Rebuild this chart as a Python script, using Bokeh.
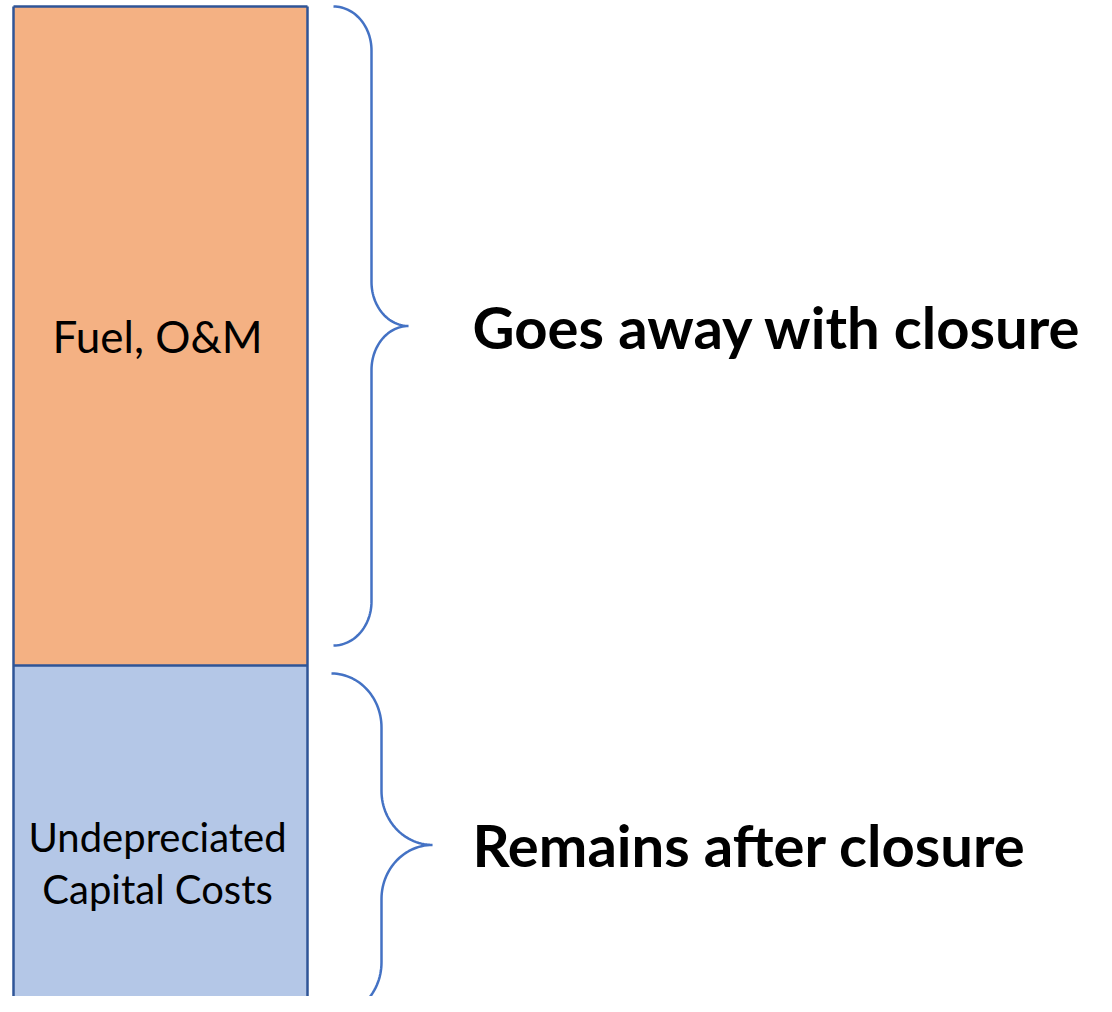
import numpy as np
from bokeh.plotting import figure
from bokeh.models import Range1d, ColumnDataSource
from bokeh.core.properties import value
from bokeh.embed import file_html
from bokeh.resources import INLINE

# ---- data ----
category = ["Plant"]
segment_names = ["Undepreciated Capital Costs", "Fuel, O&M"]
segment_values = [35, 65]
segment_lines = [["Undepreciated", "Capital Costs"], ["Fuel, O&M"]]
segment_colors = ["#B4C7E7", "#F4B183"]
brace_labels = ["Remains after closure", "Goes away with closure"]

# ---- layout (pixels) ----
W, H = 1096, 996
BAR_LEFT_PX, BAR_W_PX = 13, 294         # px of bar left edge, bar width
TOP_PX = 6                              # px of bar top
DIV_PX = 665                            # px of the boundary between segments
total = sum(segment_values)
sy = (DIV_PX - TOP_PX) / segment_values[1]
sx = BAR_W_PX
x0 = -0.5 - BAR_LEFT_PX / sx
y1 = total + TOP_PX / sy

def X(px):
    return x0 + px / sx

def Y(py):
    return y1 - py / sy

def PY(v):
    return (y1 - v) * sy

p = figure(width=W, height=H, output_backend="svg", toolbar_location=None,
           x_range=Range1d(x0, x0 + W / sx), y_range=Range1d(y1 - H / sy, y1),
           min_border=0, background_fill_color="white", border_fill_color="white")
p.axis.visible = False
p.grid.visible = False
p.outline_line_color = None

# stacked bar (fills)
bottoms = np.cumsum([0] + segment_values[:-1])
tops = np.cumsum(segment_values)
src = ColumnDataSource(dict(x=[0, 0], bottom=bottoms, top=tops, color=segment_colors))
p.vbar(x="x", bottom="bottom", top="top", width=1.0, fill_color="color",
       line_color=None, source=src)
# bar outline: sides, top edge and divider
ox = [[-0.5, -0.5], [0.5, 0.5]] + [[-0.5, 0.5] for _ in tops]
oy = [[0, total], [0, total]] + [[t, t] for t in tops]
p.multi_line(ox, oy, line_color="#2F5597", line_width=2.5)

# segment labels
tx, ty, tt, toff, tsize = [], [], [], [], []
line_gap = 52
sizes = ["40px", "44px"]
shifts = [20, 0]
for k, (b, t, lines) in enumerate(zip(bottoms, tops, segment_lines)):
    mid = (b + t) / 2
    n = len(lines)
    for i, ln in enumerate(lines):
        tx.append(-0.01)
        ty.append(mid)
        tt.append(ln)
        toff.append((i - (n - 1) / 2) * line_gap + shifts[k])
        tsize.append(sizes[k])
p.text(x=tx, y=ty, text=tt, y_offset=toff, text_align="center", text_baseline="middle",
       text_font=value("Lato"), text_font_size=tsize, text_color="black")

# braces
edge_px = BAR_LEFT_PX + BAR_W_PX
brace_specs = [
    # (segment idx, inset top px, inset bottom px, out, mid, tip offsets px, ry)
    (1, 0.0, 20, 26, 64, 101, 44),
    (0, 8, 4, 24, 74, 125, 54),
]

def brace(ya, yb, xo, xm, xt, ry):
    ym = (ya + yb) / 2
    pts = []
    t = np.linspace(-np.pi / 2, 0, 30)
    pts += list(zip(xo + (xm - xo) * np.cos(t), ya + ry + ry * np.sin(t)))
    t = np.linspace(np.pi, np.pi / 2, 30)
    pts += list(zip(xt + (xt - xm) * np.cos(t), ym - ry + ry * np.sin(t)))
    t = np.linspace(-np.pi / 2, -np.pi, 30)
    pts += list(zip(xt + (xt - xm) * np.cos(t), ym + ry + ry * np.sin(t)))
    t = np.linspace(0, np.pi / 2, 30)
    pts += list(zip(xo + (xm - xo) * np.cos(t), yb - ry + ry * np.sin(t)))
    xs = [X(a) for a, _ in pts]
    ys = [Y(b) for _, b in pts]
    return xs, ys, ym

lx, ly, lt = [], [], []
for seg, it, ib, o, m, tp, ry in brace_specs:
    ya = PY(tops[seg]) + it
    yb = PY(bottoms[seg]) - ib
    xs, ys, ym = brace(ya, yb, edge_px + o, edge_px + m, edge_px + tp, ry)
    p.line(xs, ys, line_color="#4472C4", line_width=2.5)
    lx.append(X(472))
    ly.append(Y(ym))
    lt.append(brace_labels[seg])

p.text(x=lx, y=ly, text=lt, text_align="left", text_baseline="middle",
       text_font=value("Lato"), text_font_style="bold", text_font_size="58px",
       text_color="black")

open("out.html", "w").write(file_html(p, INLINE))
